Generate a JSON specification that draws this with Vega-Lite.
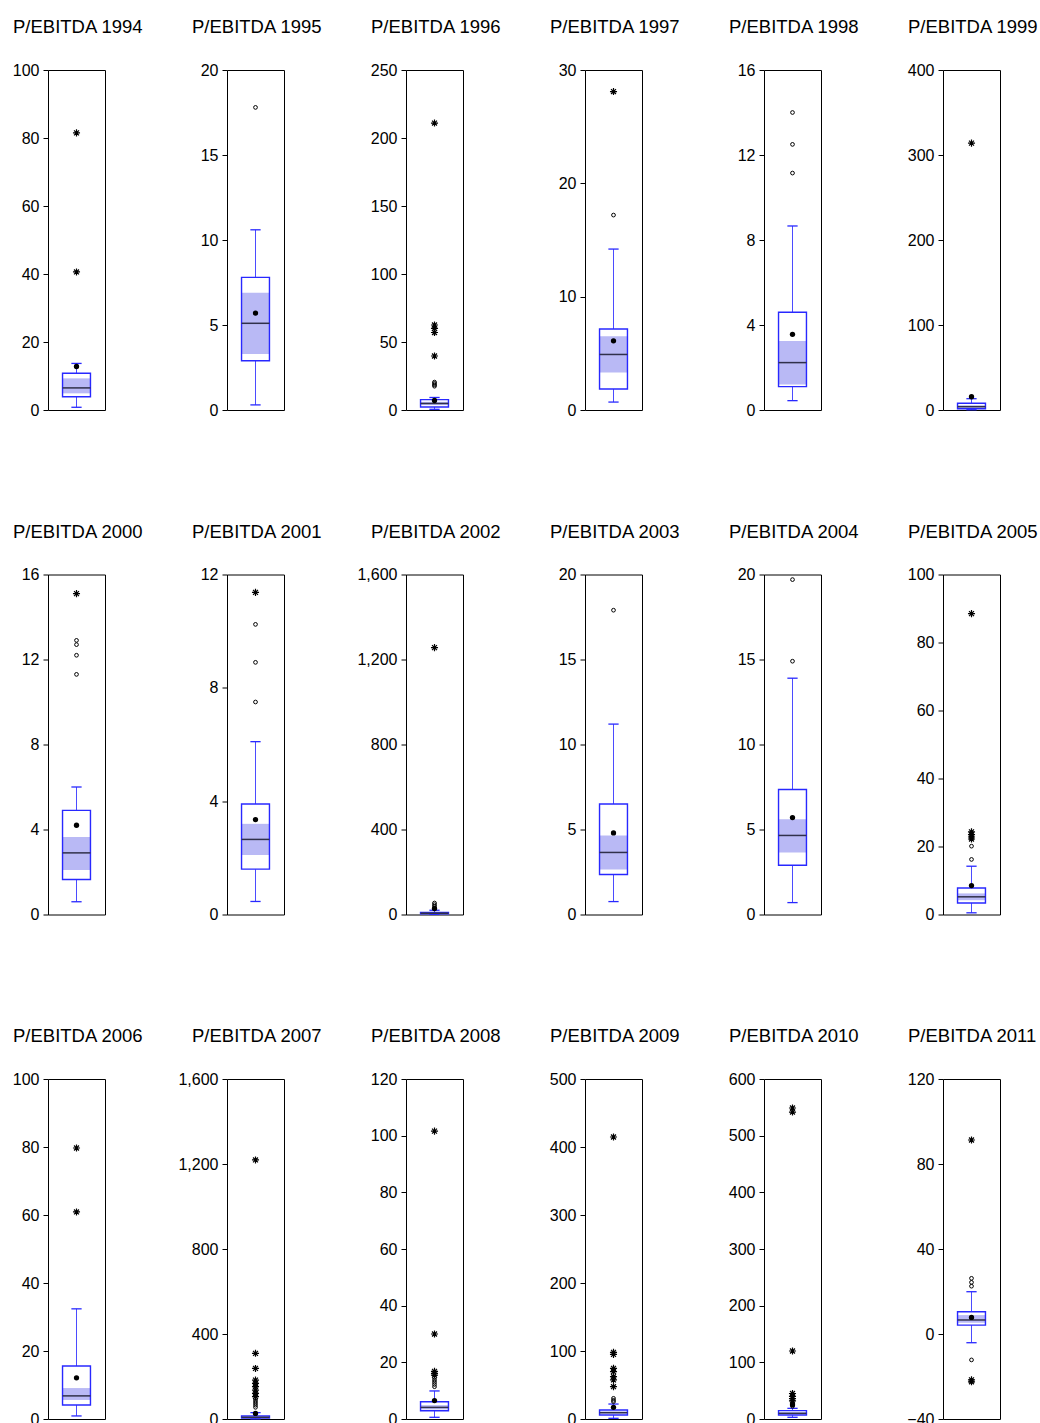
{
"$schema":"https://vega.github.io/schema/vega-lite/v6.json",
"padding":{"left":11,"top":17,"right":2,"bottom":0},
"background":"white",
"bounds":"flush",
"columns":6,
"spacing":{"row":164.5,"column":122},
"config":{
 "view":{"stroke":"black","strokeWidth":1},
 "title":{"anchor":"start","frame":"group","dx":-35,"offset":25.5,"fontSize":18.5,"font":"Liberation Sans","fontWeight":"normal","color":"black","baseline":"alphabetic"},
 "axis":{"domain":false,"grid":false,"ticks":true,"tickColor":"black","tickSize":5,"tickWidth":1,"labelFont":"Liberation Sans","labelFontSize":16,"labelColor":"black","labelPadding":4,"format":",d"},
 "axisX":{"disable":true}
},
"datasets":{
 "box":[
  {"year":1994,"q1":3.9,"med":6.5,"q3":10.8,"mean":12.8,"wlo":0.8,"whi":13.7,"cl":4.9,"ch":9.3},
  {"year":1995,"q1":2.9,"med":5.1,"q3":7.8,"mean":5.7,"wlo":0.3,"whi":10.6,"cl":3.3,"ch":6.9},
  {"year":1996,"q1":2.2,"med":4.8,"q3":7.6,"mean":7.0,"wlo":0.5,"whi":9.2,"cl":3.6,"ch":6.0},
  {"year":1997,"q1":1.85,"med":4.9,"q3":7.15,"mean":6.1,"wlo":0.7,"whi":14.2,"cl":3.3,"ch":6.5},
  {"year":1998,"q1":1.1,"med":2.23,"q3":4.6,"mean":3.56,"wlo":0.44,"whi":8.66,"cl":1.2,"ch":3.25},
  {"year":1999,"q1":1.5,"med":3.9,"q3":7.9,"mean":15.6,"wlo":0.3,"whi":13.3,"cl":2.5,"ch":5.5},
  {"year":2000,"q1":1.65,"med":2.9,"q3":4.9,"mean":4.2,"wlo":0.6,"whi":6.0,"cl":2.1,"ch":3.65},
  {"year":2001,"q1":1.6,"med":2.65,"q3":3.9,"mean":3.35,"wlo":0.46,"whi":6.1,"cl":2.1,"ch":3.2},
  {"year":2002,"q1":3,"med":6,"q3":10,"mean":28,"wlo":0.5,"whi":20,"cl":4.5,"ch":8},
  {"year":2003,"q1":2.35,"med":3.65,"q3":6.5,"mean":4.8,"wlo":0.76,"whi":11.2,"cl":2.65,"ch":4.65},
  {"year":2004,"q1":2.9,"med":4.65,"q3":7.35,"mean":5.7,"wlo":0.7,"whi":13.9,"cl":3.65,"ch":5.6},
  {"year":2005,"q1":3.4,"med":5.2,"q3":7.8,"mean":8.5,"wlo":0.5,"whi":14.2,"cl":4.2,"ch":6.2},
  {"year":2006,"q1":4.1,"med":6.8,"q3":15.6,"mean":12.1,"wlo":0.9,"whi":32.4,"cl":5.6,"ch":9.1},
  {"year":2007,"q1":4,"med":8,"q3":14,"mean":26,"wlo":0.5,"whi":30,"cl":6,"ch":10},
  {"year":2008,"q1":2.9,"med":4.1,"q3":6.1,"mean":6.5,"wlo":0.6,"whi":9.9,"cl":3.4,"ch":4.9},
  {"year":2009,"q1":5.9,"med":9.3,"q3":13.2,"mean":17.2,"wlo":1,"whi":22,"cl":7.5,"ch":11},
  {"year":2010,"q1":7,"med":10,"q3":14.7,"mean":25,"wlo":3,"whi":18.8,"cl":8.5,"ch":12},
  {"year":2011,"q1":4.2,"med":6.6,"q3":10.5,"mean":7.8,"wlo":-4.1,"whi":19.9,"cl":5.3,"ch":8.9}
 ],
 "out":[
  {"year":1994,"v":81.5,"k":"x"},{"year":1994,"v":40.6,"k":"x"},
  {"year":1995,"v":17.8,"k":"o"},
  {"year":1996,"v":211,"k":"x"},{"year":1996,"v":62.5,"k":"x"},{"year":1996,"v":60,"k":"x"},{"year":1996,"v":57,"k":"x"},{"year":1996,"v":39.7,"k":"x"},{"year":1996,"v":20.5,"k":"o"},{"year":1996,"v":19.5,"k":"o"},{"year":1996,"v":18.5,"k":"o"},{"year":1996,"v":17.5,"k":"o"},
  {"year":1997,"v":28.1,"k":"x"},{"year":1997,"v":17.2,"k":"o"},
  {"year":1998,"v":14.0,"k":"o"},{"year":1998,"v":12.5,"k":"o"},{"year":1998,"v":11.15,"k":"o"},
  {"year":1999,"v":314,"k":"x"},
  {"year":2000,"v":15.1,"k":"x"},{"year":2000,"v":12.9,"k":"o"},{"year":2000,"v":12.7,"k":"o"},{"year":2000,"v":12.2,"k":"o"},{"year":2000,"v":11.3,"k":"o"},
  {"year":2001,"v":11.37,"k":"x"},{"year":2001,"v":10.24,"k":"o"},{"year":2001,"v":8.9,"k":"o"},{"year":2001,"v":7.5,"k":"o"},
  {"year":2002,"v":1256,"k":"x"},{"year":2002,"v":30,"k":"o"},{"year":2002,"v":38,"k":"o"},{"year":2002,"v":46,"k":"o"},{"year":2002,"v":54,"k":"o"},
  {"year":2003,"v":17.9,"k":"o"},
  {"year":2004,"v":19.7,"k":"o"},{"year":2004,"v":14.9,"k":"o"},
  {"year":2005,"v":88.5,"k":"x"},{"year":2005,"v":24.3,"k":"x"},{"year":2005,"v":23.5,"k":"x"},{"year":2005,"v":22.8,"k":"x"},{"year":2005,"v":22.2,"k":"x"},{"year":2005,"v":20.1,"k":"o"},{"year":2005,"v":16.2,"k":"o"},
  {"year":2006,"v":79.7,"k":"x"},{"year":2006,"v":60.9,"k":"x"},
  {"year":2007,"v":1219,"k":"x"},{"year":2007,"v":309,"k":"x"},{"year":2007,"v":238,"k":"x"},{"year":2007,"v":183,"k":"x"},{"year":2007,"v":168,"k":"x"},{"year":2007,"v":152,"k":"x"},{"year":2007,"v":136,"k":"x"},{"year":2007,"v":121,"k":"x"},{"year":2007,"v":105,"k":"x"},{"year":2007,"v":95,"k":"o"},{"year":2007,"v":85,"k":"o"},{"year":2007,"v":75,"k":"o"},{"year":2007,"v":65,"k":"o"},{"year":2007,"v":55,"k":"o"},
  {"year":2008,"v":101.6,"k":"x"},{"year":2008,"v":30,"k":"x"},{"year":2008,"v":16.8,"k":"x"},{"year":2008,"v":16.1,"k":"x"},{"year":2008,"v":15.5,"k":"x"},{"year":2008,"v":14.6,"k":"o"},{"year":2008,"v":13.8,"k":"o"},{"year":2008,"v":13,"k":"o"},{"year":2008,"v":12.2,"k":"o"},{"year":2008,"v":11.4,"k":"o"},
  {"year":2009,"v":414.7,"k":"x"},{"year":2009,"v":98,"k":"x"},{"year":2009,"v":95,"k":"x"},{"year":2009,"v":74.5,"k":"x"},{"year":2009,"v":69.6,"k":"x"},{"year":2009,"v":62.2,"k":"x"},{"year":2009,"v":57.4,"k":"x"},{"year":2009,"v":47.5,"k":"x"},{"year":2009,"v":30.4,"k":"o"},{"year":2009,"v":27.5,"k":"o"},{"year":2009,"v":25.5,"k":"o"},
  {"year":2010,"v":548.8,"k":"x"},{"year":2010,"v":541.7,"k":"x"},{"year":2010,"v":120,"k":"x"},{"year":2010,"v":45,"k":"x"},{"year":2010,"v":40,"k":"x"},{"year":2010,"v":36,"k":"x"},{"year":2010,"v":32,"k":"x"},{"year":2010,"v":28.5,"k":"o"},{"year":2010,"v":25.5,"k":"o"},{"year":2010,"v":22.5,"k":"o"},
  {"year":2011,"v":91.3,"k":"x"},{"year":2011,"v":26.2,"k":"o"},{"year":2011,"v":24.3,"k":"o"},{"year":2011,"v":22.5,"k":"o"},{"year":2011,"v":-12.2,"k":"o"},{"year":2011,"v":-21.6,"k":"x"},{"year":2011,"v":-22.5,"k":"x"}
 ]
},
"concat":[
{"title":"P/EBITDA 1994","width":57,"height":340,"layer":[
 {"data":{"name":"box"},"transform":[{"filter":"datum.year==1994"}],"encoding":{"x":{"datum":0.5,"scale":{"domain":[0,1]}},"y":{"field":"wlo","type":"quantitative","title":null,"scale":{"domain":[0,100],"nice":false,"zero":false},"axis":{"values":[0,20,40,60,80,100]}}},"layer":[
  {"mark":{"type":"rule","color":"#4b4bff"},"encoding":{"y2":{"field":"whi"}}},
  {"mark":{"type":"rule","color":"#2828ff","strokeWidth":1.3},"encoding":{"x":{"datum":0.41},"x2":{"datum":0.59}}},
  {"mark":{"type":"rule","color":"#2828ff","strokeWidth":1.3},"encoding":{"x":{"datum":0.41},"x2":{"datum":0.59},"y":{"field":"whi","type":"quantitative","title":null}}},
  {"mark":{"type":"rect","fill":"white"},"encoding":{"x":{"datum":0.255},"x2":{"datum":0.745},"y":{"field":"q1","type":"quantitative","title":null},"y2":{"field":"q3"}}},
  {"mark":{"type":"rect","fill":"#b9b9f5"},"encoding":{"x":{"datum":0.255},"x2":{"datum":0.745},"y":{"field":"cl","type":"quantitative","title":null},"y2":{"field":"ch"}}},
  {"mark":{"type":"rect","fillOpacity":0,"stroke":"#2828ff","strokeWidth":1.4},"encoding":{"x":{"datum":0.255},"x2":{"datum":0.745},"y":{"field":"q1","type":"quantitative","title":null},"y2":{"field":"q3"}}},
  {"mark":{"type":"rule","color":"#30304a","strokeWidth":1.5},"encoding":{"x":{"datum":0.255},"x2":{"datum":0.745},"y":{"field":"med","type":"quantitative","title":null}}},
  {"mark":{"type":"point","shape":"circle","filled":true,"color":"black","opacity":1,"size":28},"encoding":{"y":{"field":"mean","type":"quantitative","title":null}}}
 ]},
 {"data":{"name":"out"},"transform":[{"filter":"datum.year==1994 && datum.k=='o'"}],"mark":{"type":"point","shape":"circle","color":"black","opacity":1,"strokeWidth":1,"size":14},"encoding":{"x":{"datum":0.5},"y":{"field":"v","type":"quantitative","title":null}}},
 {"data":{"name":"out"},"transform":[{"filter":"datum.year==1994 && datum.k=='x'"}],"mark":{"type":"point","shape":"M0,-1L0,1M-1,0L1,0M-0.7,-0.7L0.7,0.7M-0.7,0.7L0.7,-0.7","color":"black","opacity":1,"strokeWidth":1.2,"size":50},"encoding":{"x":{"datum":0.5},"y":{"field":"v","type":"quantitative","title":null}}}
]},
{"title":"P/EBITDA 1995","width":57,"height":340,"layer":[
 {"data":{"name":"box"},"transform":[{"filter":"datum.year==1995"}],"encoding":{"x":{"datum":0.5,"scale":{"domain":[0,1]}},"y":{"field":"wlo","type":"quantitative","title":null,"scale":{"domain":[0,20],"nice":false,"zero":false},"axis":{"values":[0,5,10,15,20]}}},"layer":[
  {"mark":{"type":"rule","color":"#4b4bff"},"encoding":{"y2":{"field":"whi"}}},
  {"mark":{"type":"rule","color":"#2828ff","strokeWidth":1.3},"encoding":{"x":{"datum":0.41},"x2":{"datum":0.59}}},
  {"mark":{"type":"rule","color":"#2828ff","strokeWidth":1.3},"encoding":{"x":{"datum":0.41},"x2":{"datum":0.59},"y":{"field":"whi","type":"quantitative","title":null}}},
  {"mark":{"type":"rect","fill":"white"},"encoding":{"x":{"datum":0.255},"x2":{"datum":0.745},"y":{"field":"q1","type":"quantitative","title":null},"y2":{"field":"q3"}}},
  {"mark":{"type":"rect","fill":"#b9b9f5"},"encoding":{"x":{"datum":0.255},"x2":{"datum":0.745},"y":{"field":"cl","type":"quantitative","title":null},"y2":{"field":"ch"}}},
  {"mark":{"type":"rect","fillOpacity":0,"stroke":"#2828ff","strokeWidth":1.4},"encoding":{"x":{"datum":0.255},"x2":{"datum":0.745},"y":{"field":"q1","type":"quantitative","title":null},"y2":{"field":"q3"}}},
  {"mark":{"type":"rule","color":"#30304a","strokeWidth":1.5},"encoding":{"x":{"datum":0.255},"x2":{"datum":0.745},"y":{"field":"med","type":"quantitative","title":null}}},
  {"mark":{"type":"point","shape":"circle","filled":true,"color":"black","opacity":1,"size":28},"encoding":{"y":{"field":"mean","type":"quantitative","title":null}}}
 ]},
 {"data":{"name":"out"},"transform":[{"filter":"datum.year==1995 && datum.k=='o'"}],"mark":{"type":"point","shape":"circle","color":"black","opacity":1,"strokeWidth":1,"size":14},"encoding":{"x":{"datum":0.5},"y":{"field":"v","type":"quantitative","title":null}}},
 {"data":{"name":"out"},"transform":[{"filter":"datum.year==1995 && datum.k=='x'"}],"mark":{"type":"point","shape":"M0,-1L0,1M-1,0L1,0M-0.7,-0.7L0.7,0.7M-0.7,0.7L0.7,-0.7","color":"black","opacity":1,"strokeWidth":1.2,"size":50},"encoding":{"x":{"datum":0.5},"y":{"field":"v","type":"quantitative","title":null}}}
]},
{"title":"P/EBITDA 1996","width":57,"height":340,"layer":[
 {"data":{"name":"box"},"transform":[{"filter":"datum.year==1996"}],"encoding":{"x":{"datum":0.5,"scale":{"domain":[0,1]}},"y":{"field":"wlo","type":"quantitative","title":null,"scale":{"domain":[0,250],"nice":false,"zero":false},"axis":{"values":[0,50,100,150,200,250]}}},"layer":[
  {"mark":{"type":"rule","color":"#4b4bff"},"encoding":{"y2":{"field":"whi"}}},
  {"mark":{"type":"rule","color":"#2828ff","strokeWidth":1.3},"encoding":{"x":{"datum":0.41},"x2":{"datum":0.59}}},
  {"mark":{"type":"rule","color":"#2828ff","strokeWidth":1.3},"encoding":{"x":{"datum":0.41},"x2":{"datum":0.59},"y":{"field":"whi","type":"quantitative","title":null}}},
  {"mark":{"type":"rect","fill":"white"},"encoding":{"x":{"datum":0.255},"x2":{"datum":0.745},"y":{"field":"q1","type":"quantitative","title":null},"y2":{"field":"q3"}}},
  {"mark":{"type":"rect","fill":"#b9b9f5"},"encoding":{"x":{"datum":0.255},"x2":{"datum":0.745},"y":{"field":"cl","type":"quantitative","title":null},"y2":{"field":"ch"}}},
  {"mark":{"type":"rect","fillOpacity":0,"stroke":"#2828ff","strokeWidth":1.4},"encoding":{"x":{"datum":0.255},"x2":{"datum":0.745},"y":{"field":"q1","type":"quantitative","title":null},"y2":{"field":"q3"}}},
  {"mark":{"type":"rule","color":"#30304a","strokeWidth":1.5},"encoding":{"x":{"datum":0.255},"x2":{"datum":0.745},"y":{"field":"med","type":"quantitative","title":null}}},
  {"mark":{"type":"point","shape":"circle","filled":true,"color":"black","opacity":1,"size":28},"encoding":{"y":{"field":"mean","type":"quantitative","title":null}}}
 ]},
 {"data":{"name":"out"},"transform":[{"filter":"datum.year==1996 && datum.k=='o'"}],"mark":{"type":"point","shape":"circle","color":"black","opacity":1,"strokeWidth":1,"size":14},"encoding":{"x":{"datum":0.5},"y":{"field":"v","type":"quantitative","title":null}}},
 {"data":{"name":"out"},"transform":[{"filter":"datum.year==1996 && datum.k=='x'"}],"mark":{"type":"point","shape":"M0,-1L0,1M-1,0L1,0M-0.7,-0.7L0.7,0.7M-0.7,0.7L0.7,-0.7","color":"black","opacity":1,"strokeWidth":1.2,"size":50},"encoding":{"x":{"datum":0.5},"y":{"field":"v","type":"quantitative","title":null}}}
]},
{"title":"P/EBITDA 1997","width":57,"height":340,"layer":[
 {"data":{"name":"box"},"transform":[{"filter":"datum.year==1997"}],"encoding":{"x":{"datum":0.5,"scale":{"domain":[0,1]}},"y":{"field":"wlo","type":"quantitative","title":null,"scale":{"domain":[0,30],"nice":false,"zero":false},"axis":{"values":[0,10,20,30]}}},"layer":[
  {"mark":{"type":"rule","color":"#4b4bff"},"encoding":{"y2":{"field":"whi"}}},
  {"mark":{"type":"rule","color":"#2828ff","strokeWidth":1.3},"encoding":{"x":{"datum":0.41},"x2":{"datum":0.59}}},
  {"mark":{"type":"rule","color":"#2828ff","strokeWidth":1.3},"encoding":{"x":{"datum":0.41},"x2":{"datum":0.59},"y":{"field":"whi","type":"quantitative","title":null}}},
  {"mark":{"type":"rect","fill":"white"},"encoding":{"x":{"datum":0.255},"x2":{"datum":0.745},"y":{"field":"q1","type":"quantitative","title":null},"y2":{"field":"q3"}}},
  {"mark":{"type":"rect","fill":"#b9b9f5"},"encoding":{"x":{"datum":0.255},"x2":{"datum":0.745},"y":{"field":"cl","type":"quantitative","title":null},"y2":{"field":"ch"}}},
  {"mark":{"type":"rect","fillOpacity":0,"stroke":"#2828ff","strokeWidth":1.4},"encoding":{"x":{"datum":0.255},"x2":{"datum":0.745},"y":{"field":"q1","type":"quantitative","title":null},"y2":{"field":"q3"}}},
  {"mark":{"type":"rule","color":"#30304a","strokeWidth":1.5},"encoding":{"x":{"datum":0.255},"x2":{"datum":0.745},"y":{"field":"med","type":"quantitative","title":null}}},
  {"mark":{"type":"point","shape":"circle","filled":true,"color":"black","opacity":1,"size":28},"encoding":{"y":{"field":"mean","type":"quantitative","title":null}}}
 ]},
 {"data":{"name":"out"},"transform":[{"filter":"datum.year==1997 && datum.k=='o'"}],"mark":{"type":"point","shape":"circle","color":"black","opacity":1,"strokeWidth":1,"size":14},"encoding":{"x":{"datum":0.5},"y":{"field":"v","type":"quantitative","title":null}}},
 {"data":{"name":"out"},"transform":[{"filter":"datum.year==1997 && datum.k=='x'"}],"mark":{"type":"point","shape":"M0,-1L0,1M-1,0L1,0M-0.7,-0.7L0.7,0.7M-0.7,0.7L0.7,-0.7","color":"black","opacity":1,"strokeWidth":1.2,"size":50},"encoding":{"x":{"datum":0.5},"y":{"field":"v","type":"quantitative","title":null}}}
]},
{"title":"P/EBITDA 1998","width":57,"height":340,"layer":[
 {"data":{"name":"box"},"transform":[{"filter":"datum.year==1998"}],"encoding":{"x":{"datum":0.5,"scale":{"domain":[0,1]}},"y":{"field":"wlo","type":"quantitative","title":null,"scale":{"domain":[0,16],"nice":false,"zero":false},"axis":{"values":[0,4,8,12,16]}}},"layer":[
  {"mark":{"type":"rule","color":"#4b4bff"},"encoding":{"y2":{"field":"whi"}}},
  {"mark":{"type":"rule","color":"#2828ff","strokeWidth":1.3},"encoding":{"x":{"datum":0.41},"x2":{"datum":0.59}}},
  {"mark":{"type":"rule","color":"#2828ff","strokeWidth":1.3},"encoding":{"x":{"datum":0.41},"x2":{"datum":0.59},"y":{"field":"whi","type":"quantitative","title":null}}},
  {"mark":{"type":"rect","fill":"white"},"encoding":{"x":{"datum":0.255},"x2":{"datum":0.745},"y":{"field":"q1","type":"quantitative","title":null},"y2":{"field":"q3"}}},
  {"mark":{"type":"rect","fill":"#b9b9f5"},"encoding":{"x":{"datum":0.255},"x2":{"datum":0.745},"y":{"field":"cl","type":"quantitative","title":null},"y2":{"field":"ch"}}},
  {"mark":{"type":"rect","fillOpacity":0,"stroke":"#2828ff","strokeWidth":1.4},"encoding":{"x":{"datum":0.255},"x2":{"datum":0.745},"y":{"field":"q1","type":"quantitative","title":null},"y2":{"field":"q3"}}},
  {"mark":{"type":"rule","color":"#30304a","strokeWidth":1.5},"encoding":{"x":{"datum":0.255},"x2":{"datum":0.745},"y":{"field":"med","type":"quantitative","title":null}}},
  {"mark":{"type":"point","shape":"circle","filled":true,"color":"black","opacity":1,"size":28},"encoding":{"y":{"field":"mean","type":"quantitative","title":null}}}
 ]},
 {"data":{"name":"out"},"transform":[{"filter":"datum.year==1998 && datum.k=='o'"}],"mark":{"type":"point","shape":"circle","color":"black","opacity":1,"strokeWidth":1,"size":14},"encoding":{"x":{"datum":0.5},"y":{"field":"v","type":"quantitative","title":null}}},
 {"data":{"name":"out"},"transform":[{"filter":"datum.year==1998 && datum.k=='x'"}],"mark":{"type":"point","shape":"M0,-1L0,1M-1,0L1,0M-0.7,-0.7L0.7,0.7M-0.7,0.7L0.7,-0.7","color":"black","opacity":1,"strokeWidth":1.2,"size":50},"encoding":{"x":{"datum":0.5},"y":{"field":"v","type":"quantitative","title":null}}}
]},
{"title":"P/EBITDA 1999","width":57,"height":340,"layer":[
 {"data":{"name":"box"},"transform":[{"filter":"datum.year==1999"}],"encoding":{"x":{"datum":0.5,"scale":{"domain":[0,1]}},"y":{"field":"wlo","type":"quantitative","title":null,"scale":{"domain":[0,400],"nice":false,"zero":false},"axis":{"values":[0,100,200,300,400]}}},"layer":[
  {"mark":{"type":"rule","color":"#4b4bff"},"encoding":{"y2":{"field":"whi"}}},
  {"mark":{"type":"rule","color":"#2828ff","strokeWidth":1.3},"encoding":{"x":{"datum":0.41},"x2":{"datum":0.59}}},
  {"mark":{"type":"rule","color":"#2828ff","strokeWidth":1.3},"encoding":{"x":{"datum":0.41},"x2":{"datum":0.59},"y":{"field":"whi","type":"quantitative","title":null}}},
  {"mark":{"type":"rect","fill":"white"},"encoding":{"x":{"datum":0.255},"x2":{"datum":0.745},"y":{"field":"q1","type":"quantitative","title":null},"y2":{"field":"q3"}}},
  {"mark":{"type":"rect","fill":"#b9b9f5"},"encoding":{"x":{"datum":0.255},"x2":{"datum":0.745},"y":{"field":"cl","type":"quantitative","title":null},"y2":{"field":"ch"}}},
  {"mark":{"type":"rect","fillOpacity":0,"stroke":"#2828ff","strokeWidth":1.4},"encoding":{"x":{"datum":0.255},"x2":{"datum":0.745},"y":{"field":"q1","type":"quantitative","title":null},"y2":{"field":"q3"}}},
  {"mark":{"type":"rule","color":"#30304a","strokeWidth":1.5},"encoding":{"x":{"datum":0.255},"x2":{"datum":0.745},"y":{"field":"med","type":"quantitative","title":null}}},
  {"mark":{"type":"point","shape":"circle","filled":true,"color":"black","opacity":1,"size":28},"encoding":{"y":{"field":"mean","type":"quantitative","title":null}}}
 ]},
 {"data":{"name":"out"},"transform":[{"filter":"datum.year==1999 && datum.k=='o'"}],"mark":{"type":"point","shape":"circle","color":"black","opacity":1,"strokeWidth":1,"size":14},"encoding":{"x":{"datum":0.5},"y":{"field":"v","type":"quantitative","title":null}}},
 {"data":{"name":"out"},"transform":[{"filter":"datum.year==1999 && datum.k=='x'"}],"mark":{"type":"point","shape":"M0,-1L0,1M-1,0L1,0M-0.7,-0.7L0.7,0.7M-0.7,0.7L0.7,-0.7","color":"black","opacity":1,"strokeWidth":1.2,"size":50},"encoding":{"x":{"datum":0.5},"y":{"field":"v","type":"quantitative","title":null}}}
]},
{"title":"P/EBITDA 2000","width":57,"height":340,"layer":[
 {"data":{"name":"box"},"transform":[{"filter":"datum.year==2000"}],"encoding":{"x":{"datum":0.5,"scale":{"domain":[0,1]}},"y":{"field":"wlo","type":"quantitative","title":null,"scale":{"domain":[0,16],"nice":false,"zero":false},"axis":{"values":[0,4,8,12,16]}}},"layer":[
  {"mark":{"type":"rule","color":"#4b4bff"},"encoding":{"y2":{"field":"whi"}}},
  {"mark":{"type":"rule","color":"#2828ff","strokeWidth":1.3},"encoding":{"x":{"datum":0.41},"x2":{"datum":0.59}}},
  {"mark":{"type":"rule","color":"#2828ff","strokeWidth":1.3},"encoding":{"x":{"datum":0.41},"x2":{"datum":0.59},"y":{"field":"whi","type":"quantitative","title":null}}},
  {"mark":{"type":"rect","fill":"white"},"encoding":{"x":{"datum":0.255},"x2":{"datum":0.745},"y":{"field":"q1","type":"quantitative","title":null},"y2":{"field":"q3"}}},
  {"mark":{"type":"rect","fill":"#b9b9f5"},"encoding":{"x":{"datum":0.255},"x2":{"datum":0.745},"y":{"field":"cl","type":"quantitative","title":null},"y2":{"field":"ch"}}},
  {"mark":{"type":"rect","fillOpacity":0,"stroke":"#2828ff","strokeWidth":1.4},"encoding":{"x":{"datum":0.255},"x2":{"datum":0.745},"y":{"field":"q1","type":"quantitative","title":null},"y2":{"field":"q3"}}},
  {"mark":{"type":"rule","color":"#30304a","strokeWidth":1.5},"encoding":{"x":{"datum":0.255},"x2":{"datum":0.745},"y":{"field":"med","type":"quantitative","title":null}}},
  {"mark":{"type":"point","shape":"circle","filled":true,"color":"black","opacity":1,"size":28},"encoding":{"y":{"field":"mean","type":"quantitative","title":null}}}
 ]},
 {"data":{"name":"out"},"transform":[{"filter":"datum.year==2000 && datum.k=='o'"}],"mark":{"type":"point","shape":"circle","color":"black","opacity":1,"strokeWidth":1,"size":14},"encoding":{"x":{"datum":0.5},"y":{"field":"v","type":"quantitative","title":null}}},
 {"data":{"name":"out"},"transform":[{"filter":"datum.year==2000 && datum.k=='x'"}],"mark":{"type":"point","shape":"M0,-1L0,1M-1,0L1,0M-0.7,-0.7L0.7,0.7M-0.7,0.7L0.7,-0.7","color":"black","opacity":1,"strokeWidth":1.2,"size":50},"encoding":{"x":{"datum":0.5},"y":{"field":"v","type":"quantitative","title":null}}}
]},
{"title":"P/EBITDA 2001","width":57,"height":340,"layer":[
 {"data":{"name":"box"},"transform":[{"filter":"datum.year==2001"}],"encoding":{"x":{"datum":0.5,"scale":{"domain":[0,1]}},"y":{"field":"wlo","type":"quantitative","title":null,"scale":{"domain":[0,12],"nice":false,"zero":false},"axis":{"values":[0,4,8,12]}}},"layer":[
  {"mark":{"type":"rule","color":"#4b4bff"},"encoding":{"y2":{"field":"whi"}}},
  {"mark":{"type":"rule","color":"#2828ff","strokeWidth":1.3},"encoding":{"x":{"datum":0.41},"x2":{"datum":0.59}}},
  {"mark":{"type":"rule","color":"#2828ff","strokeWidth":1.3},"encoding":{"x":{"datum":0.41},"x2":{"datum":0.59},"y":{"field":"whi","type":"quantitative","title":null}}},
  {"mark":{"type":"rect","fill":"white"},"encoding":{"x":{"datum":0.255},"x2":{"datum":0.745},"y":{"field":"q1","type":"quantitative","title":null},"y2":{"field":"q3"}}},
  {"mark":{"type":"rect","fill":"#b9b9f5"},"encoding":{"x":{"datum":0.255},"x2":{"datum":0.745},"y":{"field":"cl","type":"quantitative","title":null},"y2":{"field":"ch"}}},
  {"mark":{"type":"rect","fillOpacity":0,"stroke":"#2828ff","strokeWidth":1.4},"encoding":{"x":{"datum":0.255},"x2":{"datum":0.745},"y":{"field":"q1","type":"quantitative","title":null},"y2":{"field":"q3"}}},
  {"mark":{"type":"rule","color":"#30304a","strokeWidth":1.5},"encoding":{"x":{"datum":0.255},"x2":{"datum":0.745},"y":{"field":"med","type":"quantitative","title":null}}},
  {"mark":{"type":"point","shape":"circle","filled":true,"color":"black","opacity":1,"size":28},"encoding":{"y":{"field":"mean","type":"quantitative","title":null}}}
 ]},
 {"data":{"name":"out"},"transform":[{"filter":"datum.year==2001 && datum.k=='o'"}],"mark":{"type":"point","shape":"circle","color":"black","opacity":1,"strokeWidth":1,"size":14},"encoding":{"x":{"datum":0.5},"y":{"field":"v","type":"quantitative","title":null}}},
 {"data":{"name":"out"},"transform":[{"filter":"datum.year==2001 && datum.k=='x'"}],"mark":{"type":"point","shape":"M0,-1L0,1M-1,0L1,0M-0.7,-0.7L0.7,0.7M-0.7,0.7L0.7,-0.7","color":"black","opacity":1,"strokeWidth":1.2,"size":50},"encoding":{"x":{"datum":0.5},"y":{"field":"v","type":"quantitative","title":null}}}
]},
{"title":"P/EBITDA 2002","width":57,"height":340,"layer":[
 {"data":{"name":"box"},"transform":[{"filter":"datum.year==2002"}],"encoding":{"x":{"datum":0.5,"scale":{"domain":[0,1]}},"y":{"field":"wlo","type":"quantitative","title":null,"scale":{"domain":[0,1600],"nice":false,"zero":false},"axis":{"values":[0,400,800,1200,1600]}}},"layer":[
  {"mark":{"type":"rule","color":"#4b4bff"},"encoding":{"y2":{"field":"whi"}}},
  {"mark":{"type":"rule","color":"#2828ff","strokeWidth":1.3},"encoding":{"x":{"datum":0.41},"x2":{"datum":0.59}}},
  {"mark":{"type":"rule","color":"#2828ff","strokeWidth":1.3},"encoding":{"x":{"datum":0.41},"x2":{"datum":0.59},"y":{"field":"whi","type":"quantitative","title":null}}},
  {"mark":{"type":"rect","fill":"white"},"encoding":{"x":{"datum":0.255},"x2":{"datum":0.745},"y":{"field":"q1","type":"quantitative","title":null},"y2":{"field":"q3"}}},
  {"mark":{"type":"rect","fill":"#b9b9f5"},"encoding":{"x":{"datum":0.255},"x2":{"datum":0.745},"y":{"field":"cl","type":"quantitative","title":null},"y2":{"field":"ch"}}},
  {"mark":{"type":"rect","fillOpacity":0,"stroke":"#2828ff","strokeWidth":1.4},"encoding":{"x":{"datum":0.255},"x2":{"datum":0.745},"y":{"field":"q1","type":"quantitative","title":null},"y2":{"field":"q3"}}},
  {"mark":{"type":"rule","color":"#30304a","strokeWidth":1.5},"encoding":{"x":{"datum":0.255},"x2":{"datum":0.745},"y":{"field":"med","type":"quantitative","title":null}}},
  {"mark":{"type":"point","shape":"circle","filled":true,"color":"black","opacity":1,"size":28},"encoding":{"y":{"field":"mean","type":"quantitative","title":null}}}
 ]},
 {"data":{"name":"out"},"transform":[{"filter":"datum.year==2002 && datum.k=='o'"}],"mark":{"type":"point","shape":"circle","color":"black","opacity":1,"strokeWidth":1,"size":14},"encoding":{"x":{"datum":0.5},"y":{"field":"v","type":"quantitative","title":null}}},
 {"data":{"name":"out"},"transform":[{"filter":"datum.year==2002 && datum.k=='x'"}],"mark":{"type":"point","shape":"M0,-1L0,1M-1,0L1,0M-0.7,-0.7L0.7,0.7M-0.7,0.7L0.7,-0.7","color":"black","opacity":1,"strokeWidth":1.2,"size":50},"encoding":{"x":{"datum":0.5},"y":{"field":"v","type":"quantitative","title":null}}}
]},
{"title":"P/EBITDA 2003","width":57,"height":340,"layer":[
 {"data":{"name":"box"},"transform":[{"filter":"datum.year==2003"}],"encoding":{"x":{"datum":0.5,"scale":{"domain":[0,1]}},"y":{"field":"wlo","type":"quantitative","title":null,"scale":{"domain":[0,20],"nice":false,"zero":false},"axis":{"values":[0,5,10,15,20]}}},"layer":[
  {"mark":{"type":"rule","color":"#4b4bff"},"encoding":{"y2":{"field":"whi"}}},
  {"mark":{"type":"rule","color":"#2828ff","strokeWidth":1.3},"encoding":{"x":{"datum":0.41},"x2":{"datum":0.59}}},
  {"mark":{"type":"rule","color":"#2828ff","strokeWidth":1.3},"encoding":{"x":{"datum":0.41},"x2":{"datum":0.59},"y":{"field":"whi","type":"quantitative","title":null}}},
  {"mark":{"type":"rect","fill":"white"},"encoding":{"x":{"datum":0.255},"x2":{"datum":0.745},"y":{"field":"q1","type":"quantitative","title":null},"y2":{"field":"q3"}}},
  {"mark":{"type":"rect","fill":"#b9b9f5"},"encoding":{"x":{"datum":0.255},"x2":{"datum":0.745},"y":{"field":"cl","type":"quantitative","title":null},"y2":{"field":"ch"}}},
  {"mark":{"type":"rect","fillOpacity":0,"stroke":"#2828ff","strokeWidth":1.4},"encoding":{"x":{"datum":0.255},"x2":{"datum":0.745},"y":{"field":"q1","type":"quantitative","title":null},"y2":{"field":"q3"}}},
  {"mark":{"type":"rule","color":"#30304a","strokeWidth":1.5},"encoding":{"x":{"datum":0.255},"x2":{"datum":0.745},"y":{"field":"med","type":"quantitative","title":null}}},
  {"mark":{"type":"point","shape":"circle","filled":true,"color":"black","opacity":1,"size":28},"encoding":{"y":{"field":"mean","type":"quantitative","title":null}}}
 ]},
 {"data":{"name":"out"},"transform":[{"filter":"datum.year==2003 && datum.k=='o'"}],"mark":{"type":"point","shape":"circle","color":"black","opacity":1,"strokeWidth":1,"size":14},"encoding":{"x":{"datum":0.5},"y":{"field":"v","type":"quantitative","title":null}}},
 {"data":{"name":"out"},"transform":[{"filter":"datum.year==2003 && datum.k=='x'"}],"mark":{"type":"point","shape":"M0,-1L0,1M-1,0L1,0M-0.7,-0.7L0.7,0.7M-0.7,0.7L0.7,-0.7","color":"black","opacity":1,"strokeWidth":1.2,"size":50},"encoding":{"x":{"datum":0.5},"y":{"field":"v","type":"quantitative","title":null}}}
]},
{"title":"P/EBITDA 2004","width":57,"height":340,"layer":[
 {"data":{"name":"box"},"transform":[{"filter":"datum.year==2004"}],"encoding":{"x":{"datum":0.5,"scale":{"domain":[0,1]}},"y":{"field":"wlo","type":"quantitative","title":null,"scale":{"domain":[0,20],"nice":false,"zero":false},"axis":{"values":[0,5,10,15,20]}}},"layer":[
  {"mark":{"type":"rule","color":"#4b4bff"},"encoding":{"y2":{"field":"whi"}}},
  {"mark":{"type":"rule","color":"#2828ff","strokeWidth":1.3},"encoding":{"x":{"datum":0.41},"x2":{"datum":0.59}}},
  {"mark":{"type":"rule","color":"#2828ff","strokeWidth":1.3},"encoding":{"x":{"datum":0.41},"x2":{"datum":0.59},"y":{"field":"whi","type":"quantitative","title":null}}},
  {"mark":{"type":"rect","fill":"white"},"encoding":{"x":{"datum":0.255},"x2":{"datum":0.745},"y":{"field":"q1","type":"quantitative","title":null},"y2":{"field":"q3"}}},
  {"mark":{"type":"rect","fill":"#b9b9f5"},"encoding":{"x":{"datum":0.255},"x2":{"datum":0.745},"y":{"field":"cl","type":"quantitative","title":null},"y2":{"field":"ch"}}},
  {"mark":{"type":"rect","fillOpacity":0,"stroke":"#2828ff","strokeWidth":1.4},"encoding":{"x":{"datum":0.255},"x2":{"datum":0.745},"y":{"field":"q1","type":"quantitative","title":null},"y2":{"field":"q3"}}},
  {"mark":{"type":"rule","color":"#30304a","strokeWidth":1.5},"encoding":{"x":{"datum":0.255},"x2":{"datum":0.745},"y":{"field":"med","type":"quantitative","title":null}}},
  {"mark":{"type":"point","shape":"circle","filled":true,"color":"black","opacity":1,"size":28},"encoding":{"y":{"field":"mean","type":"quantitative","title":null}}}
 ]},
 {"data":{"name":"out"},"transform":[{"filter":"datum.year==2004 && datum.k=='o'"}],"mark":{"type":"point","shape":"circle","color":"black","opacity":1,"strokeWidth":1,"size":14},"encoding":{"x":{"datum":0.5},"y":{"field":"v","type":"quantitative","title":null}}},
 {"data":{"name":"out"},"transform":[{"filter":"datum.year==2004 && datum.k=='x'"}],"mark":{"type":"point","shape":"M0,-1L0,1M-1,0L1,0M-0.7,-0.7L0.7,0.7M-0.7,0.7L0.7,-0.7","color":"black","opacity":1,"strokeWidth":1.2,"size":50},"encoding":{"x":{"datum":0.5},"y":{"field":"v","type":"quantitative","title":null}}}
]},
{"title":"P/EBITDA 2005","width":57,"height":340,"layer":[
 {"data":{"name":"box"},"transform":[{"filter":"datum.year==2005"}],"encoding":{"x":{"datum":0.5,"scale":{"domain":[0,1]}},"y":{"field":"wlo","type":"quantitative","title":null,"scale":{"domain":[0,100],"nice":false,"zero":false},"axis":{"values":[0,20,40,60,80,100]}}},"layer":[
  {"mark":{"type":"rule","color":"#4b4bff"},"encoding":{"y2":{"field":"whi"}}},
  {"mark":{"type":"rule","color":"#2828ff","strokeWidth":1.3},"encoding":{"x":{"datum":0.41},"x2":{"datum":0.59}}},
  {"mark":{"type":"rule","color":"#2828ff","strokeWidth":1.3},"encoding":{"x":{"datum":0.41},"x2":{"datum":0.59},"y":{"field":"whi","type":"quantitative","title":null}}},
  {"mark":{"type":"rect","fill":"white"},"encoding":{"x":{"datum":0.255},"x2":{"datum":0.745},"y":{"field":"q1","type":"quantitative","title":null},"y2":{"field":"q3"}}},
  {"mark":{"type":"rect","fill":"#b9b9f5"},"encoding":{"x":{"datum":0.255},"x2":{"datum":0.745},"y":{"field":"cl","type":"quantitative","title":null},"y2":{"field":"ch"}}},
  {"mark":{"type":"rect","fillOpacity":0,"stroke":"#2828ff","strokeWidth":1.4},"encoding":{"x":{"datum":0.255},"x2":{"datum":0.745},"y":{"field":"q1","type":"quantitative","title":null},"y2":{"field":"q3"}}},
  {"mark":{"type":"rule","color":"#30304a","strokeWidth":1.5},"encoding":{"x":{"datum":0.255},"x2":{"datum":0.745},"y":{"field":"med","type":"quantitative","title":null}}},
  {"mark":{"type":"point","shape":"circle","filled":true,"color":"black","opacity":1,"size":28},"encoding":{"y":{"field":"mean","type":"quantitative","title":null}}}
 ]},
 {"data":{"name":"out"},"transform":[{"filter":"datum.year==2005 && datum.k=='o'"}],"mark":{"type":"point","shape":"circle","color":"black","opacity":1,"strokeWidth":1,"size":14},"encoding":{"x":{"datum":0.5},"y":{"field":"v","type":"quantitative","title":null}}},
 {"data":{"name":"out"},"transform":[{"filter":"datum.year==2005 && datum.k=='x'"}],"mark":{"type":"point","shape":"M0,-1L0,1M-1,0L1,0M-0.7,-0.7L0.7,0.7M-0.7,0.7L0.7,-0.7","color":"black","opacity":1,"strokeWidth":1.2,"size":50},"encoding":{"x":{"datum":0.5},"y":{"field":"v","type":"quantitative","title":null}}}
]},
{"title":"P/EBITDA 2006","width":57,"height":340,"layer":[
 {"data":{"name":"box"},"transform":[{"filter":"datum.year==2006"}],"encoding":{"x":{"datum":0.5,"scale":{"domain":[0,1]}},"y":{"field":"wlo","type":"quantitative","title":null,"scale":{"domain":[0,100],"nice":false,"zero":false},"axis":{"values":[0,20,40,60,80,100]}}},"layer":[
  {"mark":{"type":"rule","color":"#4b4bff"},"encoding":{"y2":{"field":"whi"}}},
  {"mark":{"type":"rule","color":"#2828ff","strokeWidth":1.3},"encoding":{"x":{"datum":0.41},"x2":{"datum":0.59}}},
  {"mark":{"type":"rule","color":"#2828ff","strokeWidth":1.3},"encoding":{"x":{"datum":0.41},"x2":{"datum":0.59},"y":{"field":"whi","type":"quantitative","title":null}}},
  {"mark":{"type":"rect","fill":"white"},"encoding":{"x":{"datum":0.255},"x2":{"datum":0.745},"y":{"field":"q1","type":"quantitative","title":null},"y2":{"field":"q3"}}},
  {"mark":{"type":"rect","fill":"#b9b9f5"},"encoding":{"x":{"datum":0.255},"x2":{"datum":0.745},"y":{"field":"cl","type":"quantitative","title":null},"y2":{"field":"ch"}}},
  {"mark":{"type":"rect","fillOpacity":0,"stroke":"#2828ff","strokeWidth":1.4},"encoding":{"x":{"datum":0.255},"x2":{"datum":0.745},"y":{"field":"q1","type":"quantitative","title":null},"y2":{"field":"q3"}}},
  {"mark":{"type":"rule","color":"#30304a","strokeWidth":1.5},"encoding":{"x":{"datum":0.255},"x2":{"datum":0.745},"y":{"field":"med","type":"quantitative","title":null}}},
  {"mark":{"type":"point","shape":"circle","filled":true,"color":"black","opacity":1,"size":28},"encoding":{"y":{"field":"mean","type":"quantitative","title":null}}}
 ]},
 {"data":{"name":"out"},"transform":[{"filter":"datum.year==2006 && datum.k=='o'"}],"mark":{"type":"point","shape":"circle","color":"black","opacity":1,"strokeWidth":1,"size":14},"encoding":{"x":{"datum":0.5},"y":{"field":"v","type":"quantitative","title":null}}},
 {"data":{"name":"out"},"transform":[{"filter":"datum.year==2006 && datum.k=='x'"}],"mark":{"type":"point","shape":"M0,-1L0,1M-1,0L1,0M-0.7,-0.7L0.7,0.7M-0.7,0.7L0.7,-0.7","color":"black","opacity":1,"strokeWidth":1.2,"size":50},"encoding":{"x":{"datum":0.5},"y":{"field":"v","type":"quantitative","title":null}}}
]},
{"title":"P/EBITDA 2007","width":57,"height":340,"layer":[
 {"data":{"name":"box"},"transform":[{"filter":"datum.year==2007"}],"encoding":{"x":{"datum":0.5,"scale":{"domain":[0,1]}},"y":{"field":"wlo","type":"quantitative","title":null,"scale":{"domain":[0,1600],"nice":false,"zero":false},"axis":{"values":[0,400,800,1200,1600]}}},"layer":[
  {"mark":{"type":"rule","color":"#4b4bff"},"encoding":{"y2":{"field":"whi"}}},
  {"mark":{"type":"rule","color":"#2828ff","strokeWidth":1.3},"encoding":{"x":{"datum":0.41},"x2":{"datum":0.59}}},
  {"mark":{"type":"rule","color":"#2828ff","strokeWidth":1.3},"encoding":{"x":{"datum":0.41},"x2":{"datum":0.59},"y":{"field":"whi","type":"quantitative","title":null}}},
  {"mark":{"type":"rect","fill":"white"},"encoding":{"x":{"datum":0.255},"x2":{"datum":0.745},"y":{"field":"q1","type":"quantitative","title":null},"y2":{"field":"q3"}}},
  {"mark":{"type":"rect","fill":"#b9b9f5"},"encoding":{"x":{"datum":0.255},"x2":{"datum":0.745},"y":{"field":"cl","type":"quantitative","title":null},"y2":{"field":"ch"}}},
  {"mark":{"type":"rect","fillOpacity":0,"stroke":"#2828ff","strokeWidth":1.4},"encoding":{"x":{"datum":0.255},"x2":{"datum":0.745},"y":{"field":"q1","type":"quantitative","title":null},"y2":{"field":"q3"}}},
  {"mark":{"type":"rule","color":"#30304a","strokeWidth":1.5},"encoding":{"x":{"datum":0.255},"x2":{"datum":0.745},"y":{"field":"med","type":"quantitative","title":null}}},
  {"mark":{"type":"point","shape":"circle","filled":true,"color":"black","opacity":1,"size":28},"encoding":{"y":{"field":"mean","type":"quantitative","title":null}}}
 ]},
 {"data":{"name":"out"},"transform":[{"filter":"datum.year==2007 && datum.k=='o'"}],"mark":{"type":"point","shape":"circle","color":"black","opacity":1,"strokeWidth":1,"size":14},"encoding":{"x":{"datum":0.5},"y":{"field":"v","type":"quantitative","title":null}}},
 {"data":{"name":"out"},"transform":[{"filter":"datum.year==2007 && datum.k=='x'"}],"mark":{"type":"point","shape":"M0,-1L0,1M-1,0L1,0M-0.7,-0.7L0.7,0.7M-0.7,0.7L0.7,-0.7","color":"black","opacity":1,"strokeWidth":1.2,"size":50},"encoding":{"x":{"datum":0.5},"y":{"field":"v","type":"quantitative","title":null}}}
]},
{"title":"P/EBITDA 2008","width":57,"height":340,"layer":[
 {"data":{"name":"box"},"transform":[{"filter":"datum.year==2008"}],"encoding":{"x":{"datum":0.5,"scale":{"domain":[0,1]}},"y":{"field":"wlo","type":"quantitative","title":null,"scale":{"domain":[0,120],"nice":false,"zero":false},"axis":{"values":[0,20,40,60,80,100,120]}}},"layer":[
  {"mark":{"type":"rule","color":"#4b4bff"},"encoding":{"y2":{"field":"whi"}}},
  {"mark":{"type":"rule","color":"#2828ff","strokeWidth":1.3},"encoding":{"x":{"datum":0.41},"x2":{"datum":0.59}}},
  {"mark":{"type":"rule","color":"#2828ff","strokeWidth":1.3},"encoding":{"x":{"datum":0.41},"x2":{"datum":0.59},"y":{"field":"whi","type":"quantitative","title":null}}},
  {"mark":{"type":"rect","fill":"white"},"encoding":{"x":{"datum":0.255},"x2":{"datum":0.745},"y":{"field":"q1","type":"quantitative","title":null},"y2":{"field":"q3"}}},
  {"mark":{"type":"rect","fill":"#b9b9f5"},"encoding":{"x":{"datum":0.255},"x2":{"datum":0.745},"y":{"field":"cl","type":"quantitative","title":null},"y2":{"field":"ch"}}},
  {"mark":{"type":"rect","fillOpacity":0,"stroke":"#2828ff","strokeWidth":1.4},"encoding":{"x":{"datum":0.255},"x2":{"datum":0.745},"y":{"field":"q1","type":"quantitative","title":null},"y2":{"field":"q3"}}},
  {"mark":{"type":"rule","color":"#30304a","strokeWidth":1.5},"encoding":{"x":{"datum":0.255},"x2":{"datum":0.745},"y":{"field":"med","type":"quantitative","title":null}}},
  {"mark":{"type":"point","shape":"circle","filled":true,"color":"black","opacity":1,"size":28},"encoding":{"y":{"field":"mean","type":"quantitative","title":null}}}
 ]},
 {"data":{"name":"out"},"transform":[{"filter":"datum.year==2008 && datum.k=='o'"}],"mark":{"type":"point","shape":"circle","color":"black","opacity":1,"strokeWidth":1,"size":14},"encoding":{"x":{"datum":0.5},"y":{"field":"v","type":"quantitative","title":null}}},
 {"data":{"name":"out"},"transform":[{"filter":"datum.year==2008 && datum.k=='x'"}],"mark":{"type":"point","shape":"M0,-1L0,1M-1,0L1,0M-0.7,-0.7L0.7,0.7M-0.7,0.7L0.7,-0.7","color":"black","opacity":1,"strokeWidth":1.2,"size":50},"encoding":{"x":{"datum":0.5},"y":{"field":"v","type":"quantitative","title":null}}}
]},
{"title":"P/EBITDA 2009","width":57,"height":340,"layer":[
 {"data":{"name":"box"},"transform":[{"filter":"datum.year==2009"}],"encoding":{"x":{"datum":0.5,"scale":{"domain":[0,1]}},"y":{"field":"wlo","type":"quantitative","title":null,"scale":{"domain":[0,500],"nice":false,"zero":false},"axis":{"values":[0,100,200,300,400,500]}}},"layer":[
  {"mark":{"type":"rule","color":"#4b4bff"},"encoding":{"y2":{"field":"whi"}}},
  {"mark":{"type":"rule","color":"#2828ff","strokeWidth":1.3},"encoding":{"x":{"datum":0.41},"x2":{"datum":0.59}}},
  {"mark":{"type":"rule","color":"#2828ff","strokeWidth":1.3},"encoding":{"x":{"datum":0.41},"x2":{"datum":0.59},"y":{"field":"whi","type":"quantitative","title":null}}},
  {"mark":{"type":"rect","fill":"white"},"encoding":{"x":{"datum":0.255},"x2":{"datum":0.745},"y":{"field":"q1","type":"quantitative","title":null},"y2":{"field":"q3"}}},
  {"mark":{"type":"rect","fill":"#b9b9f5"},"encoding":{"x":{"datum":0.255},"x2":{"datum":0.745},"y":{"field":"cl","type":"quantitative","title":null},"y2":{"field":"ch"}}},
  {"mark":{"type":"rect","fillOpacity":0,"stroke":"#2828ff","strokeWidth":1.4},"encoding":{"x":{"datum":0.255},"x2":{"datum":0.745},"y":{"field":"q1","type":"quantitative","title":null},"y2":{"field":"q3"}}},
  {"mark":{"type":"rule","color":"#30304a","strokeWidth":1.5},"encoding":{"x":{"datum":0.255},"x2":{"datum":0.745},"y":{"field":"med","type":"quantitative","title":null}}},
  {"mark":{"type":"point","shape":"circle","filled":true,"color":"black","opacity":1,"size":28},"encoding":{"y":{"field":"mean","type":"quantitative","title":null}}}
 ]},
 {"data":{"name":"out"},"transform":[{"filter":"datum.year==2009 && datum.k=='o'"}],"mark":{"type":"point","shape":"circle","color":"black","opacity":1,"strokeWidth":1,"size":14},"encoding":{"x":{"datum":0.5},"y":{"field":"v","type":"quantitative","title":null}}},
 {"data":{"name":"out"},"transform":[{"filter":"datum.year==2009 && datum.k=='x'"}],"mark":{"type":"point","shape":"M0,-1L0,1M-1,0L1,0M-0.7,-0.7L0.7,0.7M-0.7,0.7L0.7,-0.7","color":"black","opacity":1,"strokeWidth":1.2,"size":50},"encoding":{"x":{"datum":0.5},"y":{"field":"v","type":"quantitative","title":null}}}
]},
{"title":"P/EBITDA 2010","width":57,"height":340,"layer":[
 {"data":{"name":"box"},"transform":[{"filter":"datum.year==2010"}],"encoding":{"x":{"datum":0.5,"scale":{"domain":[0,1]}},"y":{"field":"wlo","type":"quantitative","title":null,"scale":{"domain":[0,600],"nice":false,"zero":false},"axis":{"values":[0,100,200,300,400,500,600]}}},"layer":[
  {"mark":{"type":"rule","color":"#4b4bff"},"encoding":{"y2":{"field":"whi"}}},
  {"mark":{"type":"rule","color":"#2828ff","strokeWidth":1.3},"encoding":{"x":{"datum":0.41},"x2":{"datum":0.59}}},
  {"mark":{"type":"rule","color":"#2828ff","strokeWidth":1.3},"encoding":{"x":{"datum":0.41},"x2":{"datum":0.59},"y":{"field":"whi","type":"quantitative","title":null}}},
  {"mark":{"type":"rect","fill":"white"},"encoding":{"x":{"datum":0.255},"x2":{"datum":0.745},"y":{"field":"q1","type":"quantitative","title":null},"y2":{"field":"q3"}}},
  {"mark":{"type":"rect","fill":"#b9b9f5"},"encoding":{"x":{"datum":0.255},"x2":{"datum":0.745},"y":{"field":"cl","type":"quantitative","title":null},"y2":{"field":"ch"}}},
  {"mark":{"type":"rect","fillOpacity":0,"stroke":"#2828ff","strokeWidth":1.4},"encoding":{"x":{"datum":0.255},"x2":{"datum":0.745},"y":{"field":"q1","type":"quantitative","title":null},"y2":{"field":"q3"}}},
  {"mark":{"type":"rule","color":"#30304a","strokeWidth":1.5},"encoding":{"x":{"datum":0.255},"x2":{"datum":0.745},"y":{"field":"med","type":"quantitative","title":null}}},
  {"mark":{"type":"point","shape":"circle","filled":true,"color":"black","opacity":1,"size":28},"encoding":{"y":{"field":"mean","type":"quantitative","title":null}}}
 ]},
 {"data":{"name":"out"},"transform":[{"filter":"datum.year==2010 && datum.k=='o'"}],"mark":{"type":"point","shape":"circle","color":"black","opacity":1,"strokeWidth":1,"size":14},"encoding":{"x":{"datum":0.5},"y":{"field":"v","type":"quantitative","title":null}}},
 {"data":{"name":"out"},"transform":[{"filter":"datum.year==2010 && datum.k=='x'"}],"mark":{"type":"point","shape":"M0,-1L0,1M-1,0L1,0M-0.7,-0.7L0.7,0.7M-0.7,0.7L0.7,-0.7","color":"black","opacity":1,"strokeWidth":1.2,"size":50},"encoding":{"x":{"datum":0.5},"y":{"field":"v","type":"quantitative","title":null}}}
]},
{"title":"P/EBITDA 2011","width":57,"height":340,"layer":[
 {"data":{"name":"box"},"transform":[{"filter":"datum.year==2011"}],"encoding":{"x":{"datum":0.5,"scale":{"domain":[0,1]}},"y":{"field":"wlo","type":"quantitative","title":null,"scale":{"domain":[-40,120],"nice":false,"zero":false},"axis":{"values":[-40,0,40,80,120]}}},"layer":[
  {"mark":{"type":"rule","color":"#4b4bff"},"encoding":{"y2":{"field":"whi"}}},
  {"mark":{"type":"rule","color":"#2828ff","strokeWidth":1.3},"encoding":{"x":{"datum":0.41},"x2":{"datum":0.59}}},
  {"mark":{"type":"rule","color":"#2828ff","strokeWidth":1.3},"encoding":{"x":{"datum":0.41},"x2":{"datum":0.59},"y":{"field":"whi","type":"quantitative","title":null}}},
  {"mark":{"type":"rect","fill":"white"},"encoding":{"x":{"datum":0.255},"x2":{"datum":0.745},"y":{"field":"q1","type":"quantitative","title":null},"y2":{"field":"q3"}}},
  {"mark":{"type":"rect","fill":"#b9b9f5"},"encoding":{"x":{"datum":0.255},"x2":{"datum":0.745},"y":{"field":"cl","type":"quantitative","title":null},"y2":{"field":"ch"}}},
  {"mark":{"type":"rect","fillOpacity":0,"stroke":"#2828ff","strokeWidth":1.4},"encoding":{"x":{"datum":0.255},"x2":{"datum":0.745},"y":{"field":"q1","type":"quantitative","title":null},"y2":{"field":"q3"}}},
  {"mark":{"type":"rule","color":"#30304a","strokeWidth":1.5},"encoding":{"x":{"datum":0.255},"x2":{"datum":0.745},"y":{"field":"med","type":"quantitative","title":null}}},
  {"mark":{"type":"point","shape":"circle","filled":true,"color":"black","opacity":1,"size":28},"encoding":{"y":{"field":"mean","type":"quantitative","title":null}}}
 ]},
 {"data":{"name":"out"},"transform":[{"filter":"datum.year==2011 && datum.k=='o'"}],"mark":{"type":"point","shape":"circle","color":"black","opacity":1,"strokeWidth":1,"size":14},"encoding":{"x":{"datum":0.5},"y":{"field":"v","type":"quantitative","title":null}}},
 {"data":{"name":"out"},"transform":[{"filter":"datum.year==2011 && datum.k=='x'"}],"mark":{"type":"point","shape":"M0,-1L0,1M-1,0L1,0M-0.7,-0.7L0.7,0.7M-0.7,0.7L0.7,-0.7","color":"black","opacity":1,"strokeWidth":1.2,"size":50},"encoding":{"x":{"datum":0.5},"y":{"field":"v","type":"quantitative","title":null}}}
]}
]
}
